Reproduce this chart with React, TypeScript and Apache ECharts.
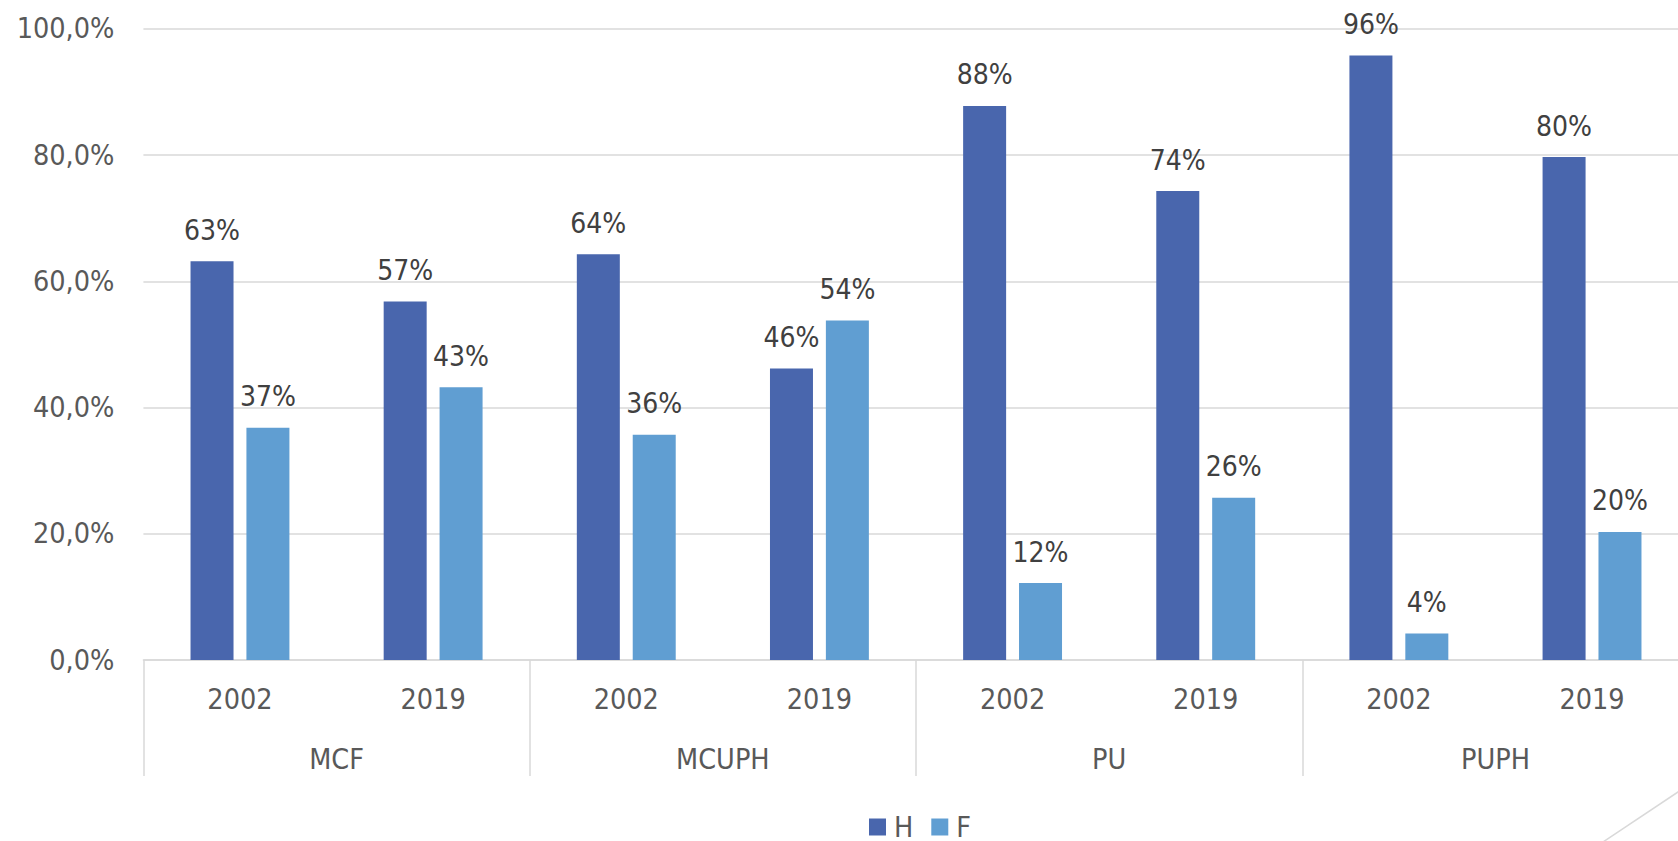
import React, { useEffect, useRef } from "react";
import * as echarts from "echarts";

const groups = ["MCF", "MCUPH", "PU", "PUPH"];
const years = ["2002", "2019"];
const seriesNames = ["H", "F"];
const valuesH = [63.2, 56.8, 64.3, 46.2, 87.8, 74.3, 95.8, 79.7];
const valuesF = [36.8, 43.2, 35.7, 53.8, 12.2, 25.7, 4.2, 20.3];
const yTicks = { min: 0, max: 100, interval: 20 };

const FONT = "'DejaVu Sans Condensed', 'DejaVu Sans', sans-serif";
const FS = 28.5;
const FS_LABEL = 28;

export default function App() {
  const ref = useRef<HTMLDivElement>(null);
  useEffect(() => {
    if (!ref.current) return;
    const chart = echarts.init(ref.current, null, { renderer: "svg" });
    const yearLabels: string[] = [];
    groups.forEach(() => years.forEach((y) => yearLabels.push(y)));
    const labelCfg = {
      show: true,
      position: "top",
      distance: 15,
      color: "#404040",
      fontFamily: FONT,
      fontSize: FS_LABEL,
      lineHeight: 32,
      formatter: (p: any) => Math.round(p.value) + "%",
    };
    chart.setOption({
      animation: false,
      backgroundColor: "#ffffff",
      textStyle: { fontFamily: FONT },
      grid: {
        left: 143.4,
        top: 28.9,
        bottom: 181,
        right: -10.6,
        containLabel: false,
        outerBoundsMode: "none",
      },
      legend: {
        data: seriesNames,
        left: 869,
        top: 812.5,
        padding: 0,
        itemWidth: 17,
        itemHeight: 17,
        itemGap: 18,
        icon: "rect",
        textStyle: {
          color: "#595959",
          fontFamily: FONT,
          fontSize: FS,
          lineHeight: 24,
          padding: [0, 0, 0, 3],
        },
      },
      xAxis: [
        {
          type: "category",
          data: yearLabels,
          position: "bottom",
          axisLine: { show: true, lineStyle: { color: "#D9D9D9", width: 1.5 } },
          axisTick: { show: false },
          axisLabel: {
            color: "#595959",
            fontFamily: FONT,
            fontSize: FS,
            lineHeight: 32,
            margin: 23,
            interval: 0,
          },
        },
        {
          type: "category",
          data: groups,
          position: "bottom",
          axisLine: { show: false },
          axisTick: {
            show: true,
            length: 116,
            lineStyle: { color: "#D9D9D9", width: 1.5 },
          },
          axisLabel: {
            color: "#595959",
            fontFamily: FONT,
            fontSize: FS,
            lineHeight: 32,
            margin: 83,
            interval: 0,
          },
        },
      ],
      yAxis: {
        type: "value",
        min: yTicks.min,
        max: yTicks.max,
        interval: yTicks.interval,
        axisLine: { show: false },
        axisTick: { show: false },
        splitLine: { lineStyle: { color: "#D9D9D9", width: 1.5 } },
        axisLabel: {
          color: "#595959",
          fontFamily: FONT,
          fontSize: FS,
          margin: 29,
          formatter: (v: number) => v.toFixed(1).replace(".", ",") + "%",
        },
      },
      series: [
        {
          name: seriesNames[0],
          type: "bar",
          xAxisIndex: 0,
          data: valuesH,
          barWidth: 43,
          barGap: "30%",
          itemStyle: { color: "#4966AD" },
          label: labelCfg,
        },
        {
          name: seriesNames[1],
          type: "bar",
          xAxisIndex: 0,
          data: valuesF,
          barWidth: 43,
          barGap: "30%",
          itemStyle: { color: "#609ED2" },
          label: labelCfg,
        },
      ],
      graphic: [
        {
          type: "line",
          shape: { x1: 1681, y1: 790, x2: 1600, y2: 844 },
          style: { stroke: "#D9D9D9", lineWidth: 1.5 },
          silent: true,
        },
      ],
    });
    return () => chart.dispose();
  }, []);
  return (
    <div
      ref={ref}
      style={{ position: "fixed", left: 0, top: 0, width: 1678, height: 841 }}
    />
  );
}
